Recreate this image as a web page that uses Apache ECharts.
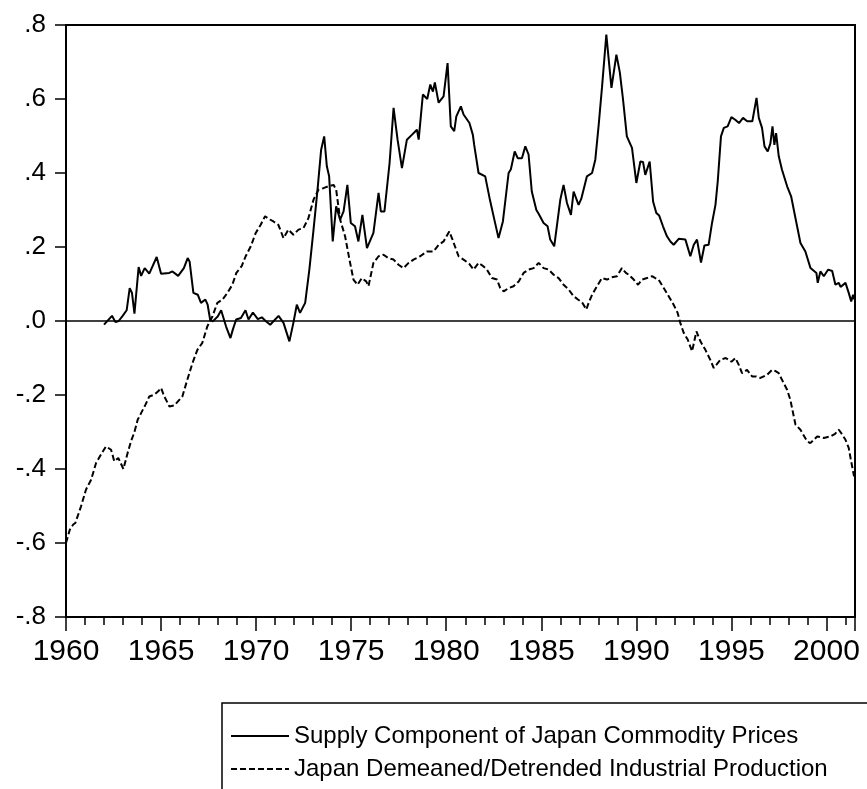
<!DOCTYPE html>
<html>
<head>
<meta charset="utf-8">
<script src="https://cdn.jsdelivr.net/npm/echarts@6/dist/echarts.min.js"></script>
<style>
html,body{margin:0;padding:0;background:#fff;}
#chart{width:867px;height:789px;}
</style>
</head>
<body>
<div id="chart"></div>
<script>
// Series names
var seriesNames = ['Supply Component of Japan Commodity Prices', 'Japan Demeaned/Detrended Industrial Production'];

// Supply component [year, value]
var supplyData = [
[1962.0,-0.01],[1962.42,0.014],[1962.6,-0.003],[1962.77,0.0],[1962.98,0.014],[1963.19,0.029],
[1963.35,0.089],[1963.47,0.076],[1963.6,0.02],[1963.82,0.146],[1963.95,0.122],[1964.14,0.143],
[1964.38,0.128],[1964.77,0.173],[1965.0,0.128],[1965.43,0.13],[1965.6,0.134],[1965.9,0.122],
[1966.2,0.143],[1966.4,0.170],[1966.5,0.161],[1966.7,0.076],[1966.93,0.071],[1967.1,0.049],
[1967.33,0.058],[1967.45,0.044],[1967.58,0.004],[1967.72,-0.001],[1967.98,0.012],[1968.16,0.029],
[1968.42,-0.015],[1968.65,-0.046],[1968.77,-0.024],[1968.95,0.004],[1969.2,0.008],[1969.44,0.029],
[1969.6,0.004],[1969.83,0.023],[1970.09,0.005],[1970.3,0.01],[1970.5,0.0],[1970.74,-0.01],
[1971.18,0.014],[1971.44,-0.005],[1971.75,-0.055],[1971.96,-0.005],[1972.14,0.044],[1972.31,0.022],
[1972.58,0.049],[1972.8,0.139],[1973.02,0.247],[1973.23,0.355],[1973.42,0.463],[1973.58,0.499],
[1973.72,0.418],[1973.84,0.391],[1974.03,0.215],[1974.21,0.31],[1974.42,0.274],[1974.6,0.296],
[1974.8,0.368],[1974.98,0.265],[1975.2,0.256],[1975.38,0.215],[1975.59,0.287],[1975.83,0.197],
[1976.17,0.238],[1976.44,0.346],[1976.56,0.296],[1976.75,0.296],[1977.02,0.427],[1977.23,0.576],
[1977.44,0.49],[1977.67,0.413],[1977.93,0.49],[1978.19,0.503],[1978.46,0.517],[1978.55,0.49],
[1978.77,0.612],[1979.0,0.6],[1979.16,0.639],[1979.3,0.62],[1979.4,0.645],[1979.6,0.59],
[1979.86,0.607],[1980.07,0.697],[1980.24,0.526],[1980.42,0.513],[1980.53,0.553],[1980.77,0.58],
[1980.91,0.558],[1981.22,0.535],[1981.4,0.503],[1981.47,0.476],[1981.7,0.4],[1982.05,0.391],
[1982.28,0.332],[1982.53,0.274],[1982.75,0.224],[1982.98,0.269],[1983.28,0.4],[1983.4,0.41],
[1983.6,0.458],[1983.76,0.44],[1983.98,0.44],[1984.16,0.472],[1984.33,0.45],[1984.5,0.35],
[1984.74,0.3],[1984.86,0.29],[1985.12,0.265],[1985.33,0.256],[1985.47,0.22],[1985.68,0.202],
[1986.0,0.328],[1986.17,0.368],[1986.35,0.319],[1986.56,0.287],[1986.7,0.35],[1986.96,0.314],
[1987.1,0.33],[1987.4,0.391],[1987.67,0.4],[1987.84,0.436],[1988.02,0.531],[1988.19,0.63],
[1988.42,0.774],[1988.69,0.63],[1988.95,0.72],[1989.13,0.672],[1989.3,0.598],[1989.5,0.499],
[1989.77,0.468],[1990.0,0.373],[1990.21,0.431],[1990.35,0.43],[1990.47,0.395],[1990.7,0.431],
[1990.88,0.323],[1991.05,0.292],[1991.2,0.285],[1991.4,0.256],[1991.61,0.229],[1991.79,0.215],
[1991.96,0.206],[1992.23,0.222],[1992.58,0.22],[1992.84,0.175],[1993.02,0.206],[1993.19,0.22],
[1993.4,0.158],[1993.58,0.204],[1993.8,0.206],[1993.98,0.265],[1994.16,0.314],[1994.28,0.377],
[1994.45,0.499],[1994.6,0.522],[1994.8,0.526],[1995.0,0.551],[1995.2,0.544],[1995.4,0.535],
[1995.61,0.549],[1995.83,0.54],[1996.1,0.54],[1996.32,0.603],[1996.44,0.549],[1996.61,0.522],
[1996.74,0.472],[1996.91,0.458],[1997.05,0.48],[1997.16,0.526],[1997.26,0.476],[1997.35,0.508],
[1997.49,0.445],[1997.66,0.409],[1997.93,0.364],[1998.14,0.337],[1998.42,0.265],[1998.63,0.211],
[1998.89,0.188],[1999.16,0.143],[1999.47,0.13],[1999.54,0.103],[1999.68,0.134],[1999.86,0.121],
[2000.09,0.139],[2000.3,0.135],[2000.47,0.098],[2000.65,0.103],[2000.74,0.092],[2001.0,0.103],
[2001.17,0.076],[2001.3,0.053],[2001.4,0.071],[2001.47,0.058]
];

// Industrial production [year, value]
var ipData = [
[1960.0,-0.6],[1960.2,-0.564],[1960.38,-0.55],[1960.49,-0.546],[1960.79,-0.501],[1961.05,-0.456],
[1961.32,-0.429],[1961.58,-0.384],[1961.84,-0.361],[1962.1,-0.339],[1962.37,-0.348],[1962.54,-0.379],
[1962.75,-0.37],[1963.02,-0.4],[1963.24,-0.357],[1963.42,-0.325],[1963.6,-0.3],[1963.77,-0.267],
[1963.95,-0.249],[1964.18,-0.226],[1964.38,-0.204],[1964.65,-0.199],[1964.85,-0.19],[1965.0,-0.181],
[1965.17,-0.204],[1965.44,-0.231],[1965.7,-0.228],[1966.12,-0.204],[1966.38,-0.159],[1966.65,-0.114],
[1966.91,-0.078],[1967.17,-0.059],[1967.43,-0.015],[1967.7,0.012],[1967.96,0.049],[1968.23,0.058],
[1968.49,0.076],[1968.75,0.098],[1968.96,0.13],[1969.24,0.148],[1969.45,0.175],[1969.72,0.202],
[1969.98,0.238],[1970.24,0.26],[1970.47,0.283],[1970.7,0.275],[1970.91,0.269],[1971.17,0.26],
[1971.44,0.224],[1971.7,0.247],[1971.96,0.233],[1972.23,0.247],[1972.49,0.251],[1972.75,0.278],
[1973.02,0.328],[1973.28,0.355],[1973.54,0.359],[1973.8,0.364],[1974.07,0.368],[1974.21,0.355],
[1974.42,0.274],[1974.68,0.229],[1974.91,0.166],[1975.12,0.112],[1975.33,0.098],[1975.56,0.116],
[1975.79,0.107],[1975.91,0.094],[1976.17,0.157],[1976.44,0.175],[1976.7,0.179],[1976.95,0.17],
[1977.23,0.166],[1977.49,0.152],[1977.75,0.143],[1978.02,0.157],[1978.28,0.166],[1978.63,0.175],
[1978.98,0.188],[1979.33,0.188],[1979.6,0.206],[1979.86,0.215],[1980.16,0.242],[1980.3,0.224],
[1980.47,0.2],[1980.65,0.175],[1980.91,0.166],[1981.2,0.155],[1981.44,0.139],[1981.7,0.157],
[1981.9,0.15],[1982.14,0.139],[1982.4,0.116],[1982.67,0.112],[1982.84,0.089],[1983.02,0.08],
[1983.28,0.089],[1983.54,0.094],[1983.81,0.107],[1984.07,0.13],[1984.33,0.139],[1984.6,0.143],
[1984.86,0.157],[1985.12,0.143],[1985.38,0.139],[1985.65,0.125],[1985.91,0.116],[1986.17,0.098],
[1986.44,0.085],[1986.7,0.067],[1986.93,0.058],[1987.15,0.05],[1987.37,0.031],[1987.49,0.049],
[1987.67,0.071],[1987.93,0.094],[1988.19,0.116],[1988.46,0.112],[1988.7,0.118],[1988.98,0.121],
[1989.24,0.143],[1989.45,0.13],[1989.6,0.125],[1989.86,0.112],[1990.09,0.098],[1990.3,0.112],
[1990.56,0.116],[1990.82,0.121],[1991.0,0.116],[1991.17,0.112],[1991.44,0.089],[1991.7,0.067],
[1991.96,0.044],[1992.17,0.022],[1992.31,-0.005],[1992.49,-0.032],[1992.7,-0.05],[1992.93,-0.082],
[1993.02,-0.087],[1993.16,-0.028],[1993.37,-0.055],[1993.63,-0.078],[1993.89,-0.105],[1994.07,-0.127],
[1994.16,-0.125],[1994.42,-0.105],[1994.7,-0.1],[1995.0,-0.11],[1995.21,-0.1],[1995.4,-0.12],
[1995.56,-0.141],[1995.82,-0.132],[1996.09,-0.15],[1996.3,-0.15],[1996.53,-0.154],[1996.88,-0.145],
[1997.14,-0.132],[1997.3,-0.135],[1997.49,-0.141],[1997.66,-0.159],[1997.93,-0.186],[1998.1,-0.213],
[1998.28,-0.258],[1998.37,-0.28],[1998.63,-0.294],[1998.98,-0.325],[1999.15,-0.33],[1999.33,-0.321],
[1999.51,-0.312],[1999.86,-0.316],[2000.21,-0.312],[2000.45,-0.305],[2000.65,-0.294],[2000.83,-0.307],
[2001.0,-0.321],[2001.17,-0.343],[2001.3,-0.38],[2001.45,-0.42]
];

// Axis settings (values)
var xMin = 1960, xMax = 2001.5, xInterval = 5;
var yMin = -0.8, yMax = 0.8, yInterval = 0.2;

var FONT = '"Liberation Sans", Arial, sans-serif';
var chart = echarts.init(document.getElementById('chart'), null, {renderer: 'canvas'});

function yFmt(v) {
  var s = (Math.abs(v) < 1e-9 ? 0 : v).toFixed(1);
  return s.replace('0.', '.');
}

var option = {
  animation: false,
  backgroundColor: '#fff',
  grid: {
    left: 66, right: 12, top: 25, bottom: 172,
    show: true, borderColor: '#000', borderWidth: 2, backgroundColor: 'transparent'
  },
  graphic: [{
    type: 'rect', z: 0,
    shape: {x: 222, y: 703, width: 800, height: 200},
    style: {fill: 'none', stroke: '#000', lineWidth: 1.5}
  }],
  legend: {
    orient: 'vertical',
    left: 230, top: 724,
    padding: 0,
    itemWidth: 58, itemHeight: 4, itemGap: 9,
    itemStyle: {opacity: 0},
    textStyle: {fontFamily: FONT, fontSize: 24, color: '#000'},
    data: seriesNames
  },
  xAxis: {
    type: 'value', min: xMin, max: xMax, interval: xInterval,
    axisLine: {show: true, onZero: false, lineStyle: {color: '#000', width: 2}},
    axisTick: {show: true, length: 14, lineStyle: {color: '#000', width: 1.5}},
    minorTick: {show: true, splitNumber: 5, length: 8, lineStyle: {color: '#000', width: 1.5}},
    splitLine: {show: false},
    axisLabel: {
      fontFamily: FONT, fontSize: 30, color: '#000', margin: 20,
      showMaxLabel: false,
      formatter: function (v) { return String(Math.round(v)); }
    }
  },
  yAxis: {
    type: 'value', min: yMin, max: yMax, interval: yInterval,
    axisLine: {show: true, lineStyle: {color: '#000', width: 2}},
    axisTick: {show: true, length: 11, lineStyle: {color: '#000', width: 1.5}},
    splitLine: {show: false},
    axisLabel: {fontFamily: FONT, fontSize: 26, color: '#000', margin: 20, formatter: yFmt}
  },
  series: [
    {
      name: seriesNames[0], type: 'line', data: supplyData,
      symbol: 'none', color: '#000',
      lineStyle: {color: '#000', width: 2, type: 'solid'},
      markLine: {
        silent: true, symbol: 'none', label: {show: false},
        lineStyle: {color: '#000', width: 1.5, type: 'solid'},
        data: [{yAxis: 0}]
      }
    },
    {
      name: seriesNames[1], type: 'line', data: ipData,
      symbol: 'none', color: '#000',
      lineStyle: {color: '#000', width: 2, type: [6, 3]}
    }
  ]
};
chart.setOption(option);
</script>
</body>
</html>
